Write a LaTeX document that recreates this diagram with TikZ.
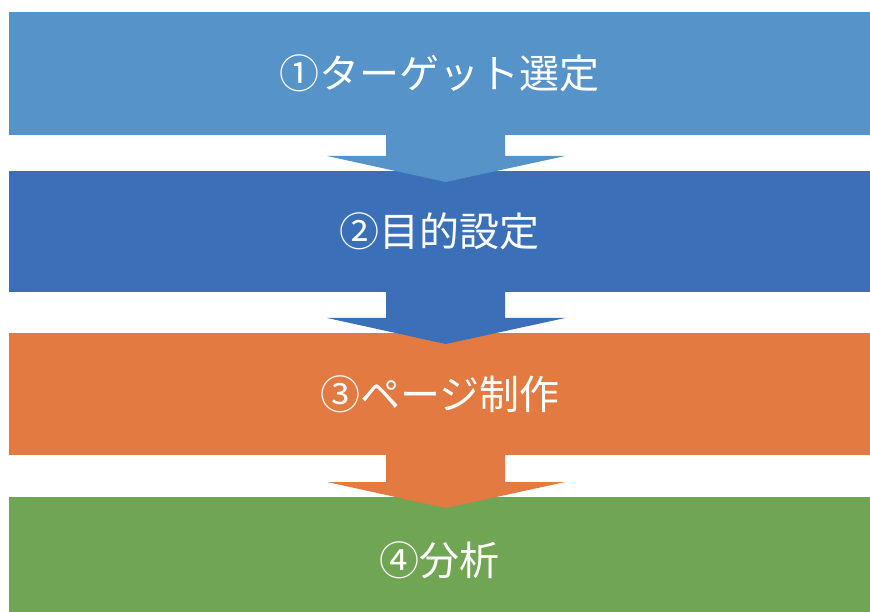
\documentclass[tikz,border=0pt]{standalone}
\usepackage{fontspec}
\newfontfamily\jp{Noto Sans CJK JP}
\usetikzlibrary{calc}
\definecolor{c1}{HTML}{5593C8}
\definecolor{c2}{HTML}{3B70B8}
\definecolor{c3}{HTML}{E27A41}
\definecolor{c4}{HTML}{6FA553}
\newcommand\flowarrow[3]{%
\fill[#3] ($(#1.south)+(-53.5,-3)$) -- ($(#1.south)+(65.5,-3)$) -- ($(#2.north)+(65.5,-15)$) -- ($(#2.north)+(125.5,-15)$) -- ($(#2.north)+(6,11)$) -- ($(#2.north)+(-112.5,-15)$) -- ($(#2.north)+(-53.5,-15)$) -- cycle;}
\begin{document}
\begin{tikzpicture}[x=1pt,y=-1pt,
  box/.style={rectangle, inner sep=0pt, minimum width=861pt, anchor=north west, text=white, font=\jp\fontsize{40}{48}\selectfont}]
\useasboundingbox (0,0) rectangle (870,612);
\node[box, fill=c1, minimum height=123pt] (b1) at (9,12) {①ターゲット選定};
\node[box, fill=c2, minimum height=121pt] (b2) at (9,171) {②目的設定};
\flowarrow{b1}{b2}{c1}
\node[box, fill=c3, minimum height=122pt] (b3) at (9,333) {③ページ制作};
\flowarrow{b2}{b3}{c2}
\node[box, fill=c4, minimum height=126pt] (b4) at (9,497) {④分析};
\flowarrow{b3}{b4}{c3}
\end{tikzpicture}
\end{document}
